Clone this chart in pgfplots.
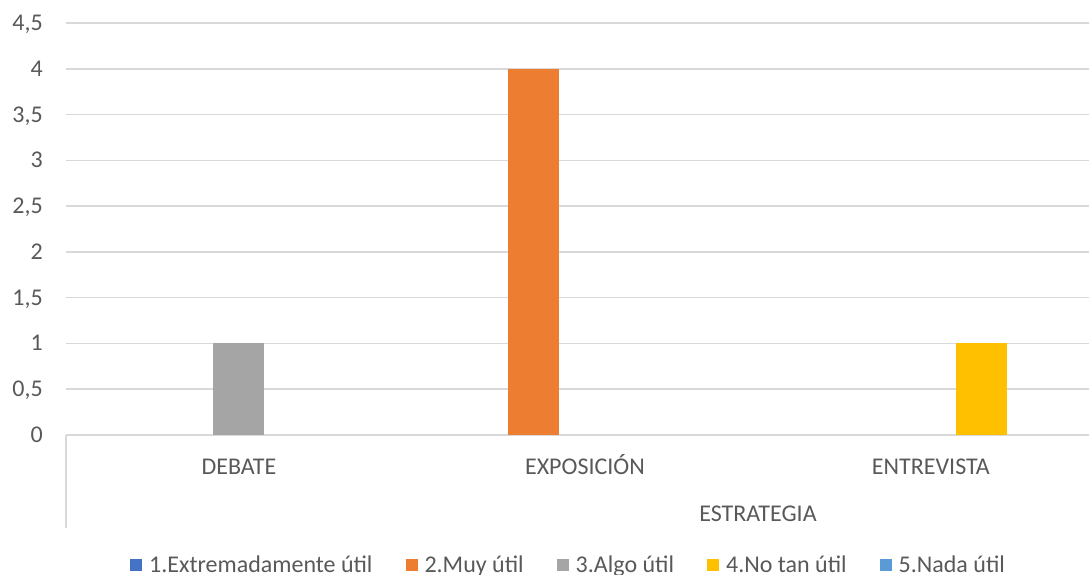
\documentclass[border=0pt]{standalone}
\usepackage{fontspec}
\setmainfont{Carlito}
\usepackage{pgfplots}
\pgfplotsset{compat=1.18}

\definecolor{s1}{HTML}{4472C4}
\definecolor{s2}{HTML}{ED7D31}
\definecolor{s3}{HTML}{A5A5A5}
\definecolor{s4}{HTML}{FFC000}
\definecolor{s5}{HTML}{5B9BD5}
\definecolor{txt}{HTML}{595959}
\definecolor{gridc}{HTML}{D9D9D9}

\newcommand{\lbl}{\fontsize{24}{29}\selectfont}

\begin{document}
\begin{tikzpicture}[x=1pt,y=1pt]
\path[use as bounding box] (0,0) rectangle (1089,575);
\begin{axis}[
  at={(66pt,140pt)}, anchor=south west,
  scale only axis, width=1023pt, height=412pt,
  xmin=-0.5, xmax=2.457, ymin=0, ymax=4.5,
  ybar, bar width=51pt,
  xtick={0,1,2},
  xticklabels={DEBATE, EXPOSICIÓN, ENTREVISTA},
  ytick={0,0.5,1,1.5,2,2.5,3,3.5,4,4.5},
  /pgf/number format/use comma,
  /pgf/number format/assume math mode=true,
  ymajorgrids,
  major grid style={draw=gridc, line width=1.5pt},
  axis line style={draw=none},
  major tick length=0pt,
  tick style={draw=none},
  ticklabel style={font=\lbl, text=txt, inner sep=0pt},
  xticklabel style={anchor=base, yshift=-40pt},
  yticklabel style={anchor=base east, xshift=-23pt, yshift=-7.5pt},
  legend image code/.code={\fill[#1] (0pt,-6pt) rectangle (12pt,6pt);},
  legend style={at={(0.0596,-0.3155)}, anchor=west, draw=none, fill=none,
    font=\lbl, text=txt, legend columns=5,
    /tikz/every odd column/.append style={column sep=5pt},
    /tikz/every even column/.append style={column sep=31pt}},
  every axis plot/.append style={draw=none},
]
% series 1 and 5 are zero everywhere: legend entries only
\addlegendimage{fill=s1, draw=none}
\addlegendentry{1.Extremadamente útil}
\addplot[fill=s2, bar shift=-51pt] coordinates {(1,4)};
\addlegendentry{2.Muy útil}
\addplot[fill=s3, bar shift=0pt] coordinates {(0,1)};
\addlegendentry{3.Algo útil}
\addplot[fill=s4, bar shift=51pt] coordinates {(2,1)};
\addlegendentry{4.No tan útil}
\addlegendimage{fill=s5, draw=none}
\addlegendentry{5.Nada útil}
\end{axis}
\draw[gridc, line width=1.5pt] (66,140) -- (66,47);
\node[anchor=base, text=txt, font=\lbl, inner sep=0pt] at (758,53) {ESTRATEGIA};
\end{tikzpicture}
\end{document}
